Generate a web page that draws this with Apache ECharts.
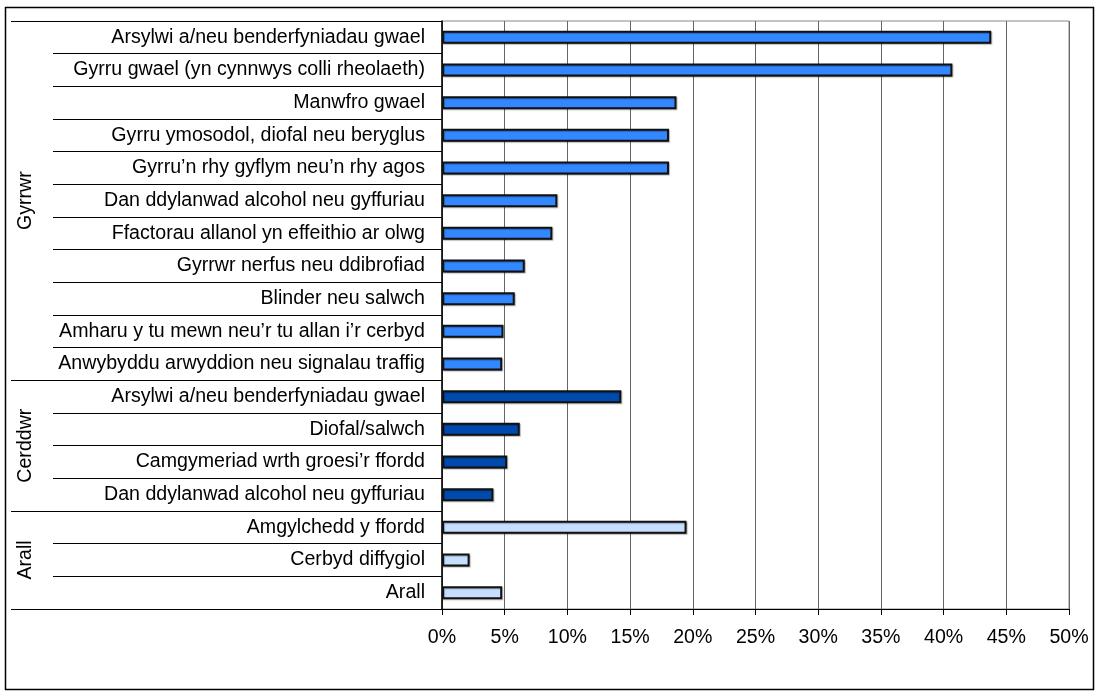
<!DOCTYPE html>
<html>
<head>
<meta charset="utf-8">
<script src="https://cdn.jsdelivr.net/npm/echarts@6/dist/echarts.min.js"></script>
<style>
html,body{margin:0;padding:0;background:#fff;}
#c{width:1098px;height:696px;}
</style>
</head>
<body>
<div id="c"></div>
<script>
// ---- data ----
const categories = [
  'Arsylwi a/neu benderfyniadau gwael',
  'Gyrru gwael (yn cynnwys colli rheolaeth)',
  'Manwfro gwael',
  'Gyrru ymosodol, diofal neu beryglus',
  'Gyrru\u2019n rhy gyflym neu\u2019n rhy agos',
  'Dan ddylanwad alcohol neu gyffuriau',
  'Ffactorau allanol yn effeithio ar olwg',
  'Gyrrwr nerfus neu ddibrofiad',
  'Blinder neu salwch',
  'Amharu y tu mewn neu\u2019r tu allan i\u2019r cerbyd',
  'Anwybyddu arwyddion neu signalau traffig',
  'Arsylwi a/neu benderfyniadau gwael',
  'Diofal/salwch',
  'Camgymeriad wrth groesi\u2019r ffordd',
  'Dan ddylanwad alcohol neu gyffuriau',
  'Amgylchedd y ffordd',
  'Cerbyd diffygiol',
  'Arall'
];
const values = [43.8, 40.7, 18.7, 18.1, 18.1, 9.2, 8.8, 6.6, 5.8, 4.9, 4.8, 14.3, 6.2, 5.2, 4.1, 19.5, 2.2, 4.8];
const groupNames = ['Gyrrwr', 'Cerddwr', 'Arall'];
const groupSizes = [11, 4, 3];
const xMin = 0, xMax = 50, xStep = 5;

// ---- styles ----
const groupColors = ['#3388FF', '#004AAD', '#C6DEFF'];
const FONT = 'Liberation Sans, Arial, sans-serif';
const FS = 19.6;

const groupOf = [];
groupSizes.forEach((n, g) => { for (let i = 0; i < n; i++) groupOf.push(g); });

const chart = echarts.init(document.getElementById('c'), null, {renderer: 'canvas'});

const option = {
  animation: false,
  backgroundColor: '#fff',
  grid: {
    left: 442, right: 29, top: 21, bottom: 87,
    show: true, borderColor: '#888', borderWidth: 1, backgroundColor: 'transparent'
  },
  xAxis: {
    type: 'value', min: xMin, max: xMax, interval: xStep,
    axisLine: {show: true, lineStyle: {color: '#000', width: 1}},
    axisTick: {show: true, length: 6, lineStyle: {color: '#000'}},
    axisLabel: {formatter: '{value}%', color: '#000', fontFamily: FONT, fontSize: FS, margin: 19},
    splitLine: {show: true, lineStyle: {color: '#666', width: 1}}
  },
  yAxis: {
    type: 'category', inverse: true, data: categories,
    axisLine: {show: true, lineStyle: {color: '#000', width: 1.5}},
    axisTick: {show: true, length: 389, lineStyle: {color: '#000', width: 1}},
    axisLabel: {color: '#000', fontFamily: FONT, fontSize: FS, margin: 17, interval: 0},
    splitLine: {show: false}
  },
  series: [{
    type: 'bar',
    data: values,
    barWidth: 13,
    itemStyle: {
      color: p => groupColors[groupOf[p.dataIndex]],
      borderColor: '#111', borderWidth: 2,
      shadowColor: 'rgba(0,0,0,0.3)', shadowOffsetX: 1, shadowOffsetY: 1, shadowBlur: 1
    }
  }]
};
chart.setOption(option);

// group separators and labels, positioned through the axis scales
const xAxis0 = chart.convertToPixel({xAxisIndex: 0}, xMin);
const c0 = chart.convertToPixel({yAxisIndex: 0}, 0);
const c1 = chart.convertToPixel({yAxisIndex: 0}, 1);
const step = c1 - c0;
const boundary = i => c0 + (i - 0.5) * step;
const elements = [];
let start = 0;
const bounds = [0];
groupSizes.forEach(n => { start += n; bounds.push(start); });
bounds.forEach(b => {
  const y = Math.round(boundary(b)) + 0.5;
  elements.push({type: 'line', shape: {x1: 11, y1: y, x2: xAxis0, y2: y}, style: {stroke: '#000', lineWidth: 1}, z: 10});
});
groupNames.forEach((name, g) => {
  const yc = (boundary(bounds[g]) + boundary(bounds[g + 1])) / 2;
  elements.push({
    type: 'text', x: 26, y: yc, rotation: Math.PI / 2,
    style: {text: name, fill: '#000', font: FS + 'px ' + FONT, textAlign: 'center', textVerticalAlign: 'middle', align: 'center', verticalAlign: 'middle'},
    z: 10
  });
});
// outer frame
elements.push({type: 'rect', shape: {x: 5.5, y: 7.5, width: 1088, height: 682}, style: {fill: 'none', stroke: '#000', lineWidth: 1.5}, z: 10});
chart.setOption({graphic: {elements: elements}});
</script>
</body>
</html>
